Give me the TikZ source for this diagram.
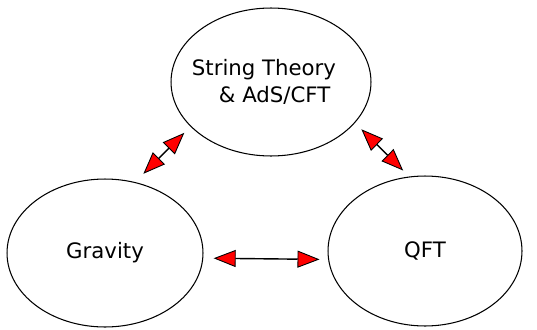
\documentclass[tikz,border=0pt]{standalone}
\usepackage{fontspec}
\setmainfont{DejaVu Sans}
\usepackage{tikz}
\usetikzlibrary{arrows.meta,shapes.geometric}

\begin{document}
\begin{tikzpicture}[
    x=0.02cm, y=0.02cm,
    font=\fontsize{12.1}{15.4}\selectfont,
    theory_ell/.style={draw, ellipse, line width=0.6pt, inner sep=0pt, text centered},
    link_arrow/.style={{Triangle[length=0.44cm, width=0.34cm, fill=red, line width=0.5pt]}-{Triangle[length=0.44cm, width=0.34cm, fill=red, line width=0.5pt]}, line width=0.8pt, draw=black}
]
\useasboundingbox (0,0) rectangle (537,329);

% the three theory bubbles
\node (string) [theory_ell, minimum width=4cm, minimum height=2.96cm, align=left] at (271,247)
    {\hspace*{-0.28cm}String Theory\\\hspace*{0.26cm}\& AdS/CFT};
\node (gravity) [theory_ell, minimum width=3.92cm, minimum height=2.96cm] at (105,76) {Gravity};
\node (qft) [theory_ell, minimum width=3.88cm, minimum height=3cm] at (425,78) {QFT};

% two-way links between them
\draw [link_arrow, shorten <=0.234cm, shorten >=0.176cm] (gravity.67.3) -- (string.209.4);
\draw [link_arrow, shorten <=0.18cm, shorten >=0.17cm] (string.334.1) -- (qft.102.2);
\draw [link_arrow, shorten <=0.208cm, shorten >=0.172cm] (gravity.-3.8) -- (qft.185);

\end{tikzpicture}
\end{document}
